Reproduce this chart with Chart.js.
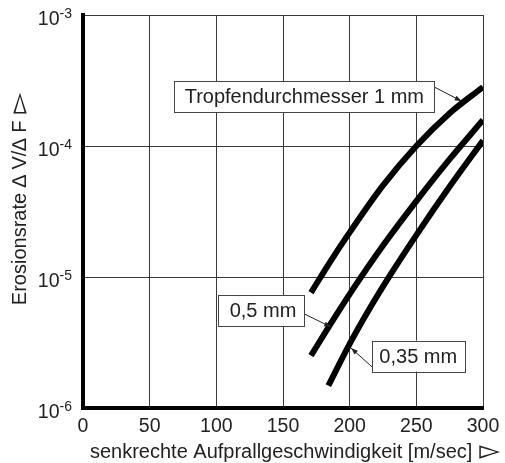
<!DOCTYPE html>
<html>
<head>
<meta charset="utf-8">
<script src="https://cdn.jsdelivr.net/npm/chart.js@4.4.1/dist/chart.umd.min.js"></script>
<style>
  html, body { margin: 0; padding: 0; background: #fff; }
  canvas { display: block; }
</style>
</head>
<body>
<canvas id="chart" width="505" height="463"></canvas>
<script>
// Axis ticks
const speedTicks = [0, 50, 100, 150, 200, 250, 300];
const rateTicks = [1e-6, 1e-5, 1e-4, 1e-3];
const rateExponents = ['-6', '-5', '-4', '-3'];

// Erosion rate vs. impact speed, per droplet diameter
const speed1mm = [171, 185, 200, 225, 250, 275, 300];
const rate1mm = [7.6e-6, 1.29e-5, 2.19e-5, 5.0e-5, 1.0e-4, 1.78e-4, 2.82e-4];

const speed05mm = [171, 185, 200, 225, 250, 275, 300];
const rate05mm = [2.51e-6, 4.27e-6, 7.41e-6, 1.74e-5, 3.8e-5, 7.94e-5, 1.58e-4];

const speed035mm = [184, 200, 215, 230, 250, 275, 300];
const rate035mm = [1.48e-6, 3.09e-6, 5.75e-6, 1.02e-5, 2.09e-5, 4.9e-5, 1.1e-4];

// Curve labels
const labelTexts = ['Tropfendurchmesser 1 mm', '0,5 mm', '0,35 mm'];

const FONT = "'Liberation Sans', Arial, 'DejaVu Sans', sans-serif";
const TEXT = '#222';
const ARROW_GLYPH = '\u25BB';

// Label boxes and leader arrows, anchored in data units
const callouts = [
  { text: labelTexts[0], left: 68, mid: 2.37e-4, padL: 11, padR: 10, from: [264, 2.8e-4], to: [284, 2.2e-4] },
  { text: labelTexts[1], left: 101, mid: 5.55e-6, padL: 12, padR: 7, from: [166.5, 5.2e-6], to: [186, 4.15e-6] },
  { text: labelTexts[2], left: 217, mid: 2.49e-6, padL: 7, padR: 8, from: [216.75, 2.06e-6], to: [201, 2.87e-6] }
];

const toPoints = (xs, ys) => xs.map((x, i) => ({ x: x, y: ys[i] }));

const curveStyle = {
  borderColor: '#000',
  borderWidth: 6,
  pointRadius: 0,
  fill: false,
  cubicInterpolationMode: 'monotone',
  borderCapStyle: 'butt'
};

// Axis title followed by a larger pointer glyph, centred on (0, 0)
function drawTitle(ctx, text) {
  const gap = 7;
  ctx.font = '20px ' + FONT;
  const tw = ctx.measureText(text).width;
  ctx.font = '27px ' + FONT;
  const gw = ctx.measureText(ARROW_GLYPH).width;
  const total = tw + gap + gw;
  ctx.textAlign = 'left';
  ctx.textBaseline = 'middle';
  ctx.font = '20px ' + FONT;
  ctx.fillText(text, -total / 2, 0);
  ctx.font = '27px ' + FONT;
  ctx.fillText(ARROW_GLYPH, -total / 2 + tw + gap, 0);
}

const decorations = {
  id: 'decorations',
  afterDraw(chart) {
    const ctx = chart.ctx;
    const xs = chart.scales.x;
    const ys = chart.scales.y;
    const area = chart.chartArea;
    ctx.save();
    ctx.fillStyle = TEXT;

    // x tick labels
    ctx.font = '19.5px ' + FONT;
    ctx.textAlign = 'center';
    ctx.textBaseline = 'alphabetic';
    speedTicks.forEach(v => {
      ctx.fillText(String(v), xs.getPixelForValue(v), area.bottom + 24);
    });

    // y tick labels: 10 with superscript exponent
    rateTicks.forEach((v, i) => {
      const y = ys.getPixelForValue(v);
      ctx.font = '14px ' + FONT;
      const supW = ctx.measureText(rateExponents[i]).width;
      const right = area.left - 11;
      ctx.textAlign = 'right';
      ctx.fillText(rateExponents[i], right, y + 3);
      ctx.font = '19.5px ' + FONT;
      ctx.fillText('10', right - supW, y + 10);
    });

    // axis titles
    ctx.save();
    ctx.translate(295, 452);
    drawTitle(ctx, 'senkrechte Aufprallgeschwindigkeit [m/sec]');
    ctx.restore();

    ctx.save();
    ctx.translate(20, 199);
    ctx.rotate(-Math.PI / 2);
    drawTitle(ctx, 'Erosionsrate \u2206 V/\u2206 F');
    ctx.restore();

    // callouts
    ctx.font = '20px ' + FONT;
    ctx.textAlign = 'left';
    ctx.textBaseline = 'middle';
    callouts.forEach(c => {
      const w = ctx.measureText(c.text).width + c.padL + c.padR;
      const h = 31;
      const bx = xs.getPixelForValue(c.left);
      const by = ys.getPixelForValue(c.mid);
      ctx.fillStyle = '#fff';
      ctx.fillRect(bx, by - h / 2, w, h);
      ctx.strokeStyle = '#444';
      ctx.lineWidth = 1;
      ctx.strokeRect(Math.round(bx) + 0.5, Math.round(by - h / 2) + 0.5, Math.round(w), h);
      ctx.fillStyle = TEXT;
      ctx.fillText(c.text, bx + c.padL, by + 1);

      const x1 = xs.getPixelForValue(c.from[0]), y1 = ys.getPixelForValue(c.from[1]);
      const x2 = xs.getPixelForValue(c.to[0]), y2 = ys.getPixelForValue(c.to[1]);
      ctx.strokeStyle = '#222';
      ctx.beginPath();
      ctx.moveTo(x1, y1);
      ctx.lineTo(x2, y2);
      ctx.stroke();
      const a = Math.atan2(y2 - y1, x2 - x1);
      const len = 7, half = 2.5;
      ctx.fillStyle = '#222';
      ctx.beginPath();
      ctx.moveTo(x2, y2);
      ctx.lineTo(x2 - len * Math.cos(a) + half * Math.sin(a), y2 - len * Math.sin(a) - half * Math.cos(a));
      ctx.lineTo(x2 - len * Math.cos(a) - half * Math.sin(a), y2 - len * Math.sin(a) + half * Math.cos(a));
      ctx.closePath();
      ctx.fill();
    });
    ctx.restore();
  }
};

new Chart(document.getElementById('chart'), {
  type: 'line',
  data: {
    datasets: [
      Object.assign({ label: labelTexts[0], data: toPoints(speed1mm, rate1mm) }, curveStyle),
      Object.assign({ label: labelTexts[1], data: toPoints(speed05mm, rate05mm) }, curveStyle),
      Object.assign({ label: labelTexts[2], data: toPoints(speed035mm, rate035mm) }, curveStyle)
    ]
  },
  options: {
    responsive: false,
    animation: false,
    devicePixelRatio: 1,
    layout: { padding: { left: 83, right: 22, top: 15, bottom: 55 } },
    plugins: { legend: { display: false }, tooltip: { enabled: false } },
    scales: {
      x: {
        type: 'linear',
        min: 0,
        max: 300,
        afterBuildTicks: s => { s.ticks = speedTicks.map(v => ({ value: v })); },
        ticks: { display: false },
        grid: { color: '#3a3a3a', lineWidth: 1, drawTicks: false },
        border: { display: true, color: '#000', width: 4 }
      },
      y: {
        type: 'logarithmic',
        min: 1e-6,
        max: 1e-3,
        afterBuildTicks: s => { s.ticks = rateTicks.map(v => ({ value: v })); },
        ticks: { display: false },
        grid: { color: '#3a3a3a', lineWidth: 1, drawTicks: false },
        border: { display: true, color: '#000', width: 4 }
      }
    }
  },
  plugins: [decorations]
});
</script>
</body>
</html>
